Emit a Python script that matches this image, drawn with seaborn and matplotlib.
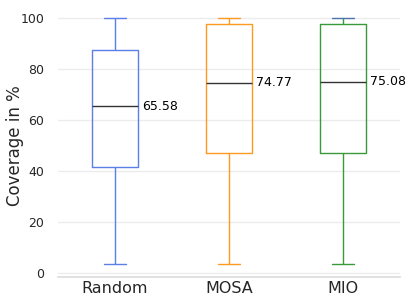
import pandas as pd
import seaborn as sns
import matplotlib.pyplot as plt

# 各方法的覆盖率数据（五点：最小值、Q1、中位数、Q3、最大值）
methods = ['Random', 'MOSA', 'MIO']
random_cov = [3.8, 41.8, 65.58, 87.6, 100.0]
mosa_cov = [3.8, 47.2, 74.77, 97.8, 100.0]
mio_cov = [3.8, 47.0, 75.08, 97.8, 100.0]
medians = [65.58, 74.77, 75.08]
colors = ['#5b7fe8', '#ff9a1f', '#3a9a3a']


def main():
    df = pd.DataFrame({
        'method': ['Random'] * len(random_cov) + ['MOSA'] * len(mosa_cov) + ['MIO'] * len(mio_cov),
        'coverage': random_cov + mosa_cov + mio_cov,
    })

    sns.set_theme(style="whitegrid")
    plt.rcParams['font.family'] = ['DejaVu Sans']

    fig = plt.figure(figsize=(4.07, 3.05), dpi=100)
    ax = fig.add_axes([0.1425, 0.0921, 0.8405, 0.8597])

    sns.boxplot(x='method', y='coverage', data=df, order=methods, width=0.4,
                fill=False, whis=1.5, linewidth=1, ax=ax,
                medianprops={'color': '#333333', 'linewidth': 1})

    # 给每个箱子上色
    for i, c in enumerate(colors):
        for line in ax.lines[i * 6:(i + 1) * 6]:
            if line.get_color() != '#333333':
                line.set_color(c)
        ax.patches[i].set_edgecolor(c) if i < len(ax.patches) else None

    # 标注中位数
    for i, m in enumerate(medians):
        ax.text(i + 0.24, m, f'{m:.2f}', va='center', ha='left', fontsize=9, color='black')

    ax.set_ylim(-1.4, 101.4)
    ax.set_xlim(-0.5, 2.5)
    ax.set_yticks([0, 20, 40, 60, 80, 100])
    ax.set_xlabel('')
    ax.set_ylabel('Coverage in %', fontsize=12, labelpad=-3)
    ax.tick_params(axis='y', labelsize=9, pad=4)
    ax.tick_params(axis='x', labelsize=11.5, pad=3, length=0)
    ax.grid(axis='y', color='#ececec', linewidth=1)
    ax.grid(axis='x', visible=False)
    for s in ['left', 'top', 'right']:
        ax.spines[s].set_visible(False)
    ax.spines['bottom'].set_color('#dddddd')

    fig.savefig('out.png', dpi=100)


if __name__ == '__main__':
    main()
